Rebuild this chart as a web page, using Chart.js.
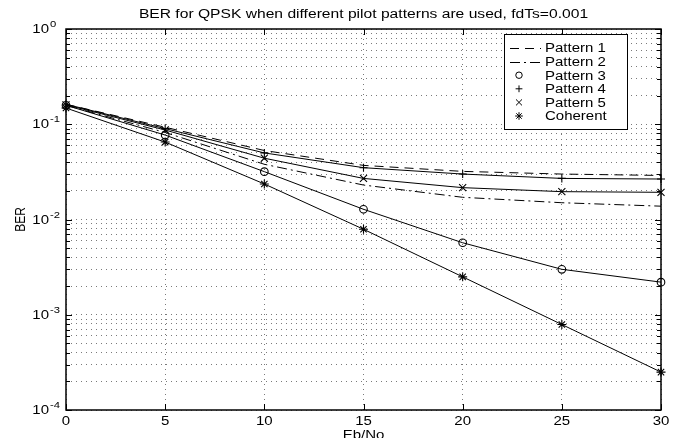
<!DOCTYPE html>
<html>
<head>
<meta charset="utf-8">
<script src="https://cdn.jsdelivr.net/npm/chart.js@4/dist/chart.umd.min.js"></script>
<style>
  html, body { margin: 0; padding: 0; background: #fff; }
  #wrap { width: 679px; height: 438px; }
</style>
</head>
<body>
<div id="wrap"><canvas id="berChart" width="679" height="438"></canvas></div>
<script>
// Eb/No in dB
const ebno = [0, 5, 10, 15, 20, 25, 30];

// BER
const pattern1 = [0.162, 0.093, 0.053, 0.037, 0.032, 0.030, 0.029];
const pattern2 = [0.158, 0.082, 0.038, 0.023, 0.0171, 0.015, 0.0138];
const pattern3 = [0.158, 0.077, 0.0318, 0.0128, 0.0057, 0.0030, 0.0022];
const pattern4 = [0.162, 0.090, 0.050, 0.035, 0.030, 0.027, 0.0266];
const pattern5 = [0.160, 0.087, 0.044, 0.027, 0.0216, 0.0196, 0.0193];
const coherent = [0.148, 0.065, 0.0236, 0.0079, 0.0025, 0.00079, 0.00025];

const xTicks = [0, 5, 10, 15, 20, 25, 30];
const yExponents = [-4, -3, -2, -1, 0];

const titleText = 'BER for QPSK when different pilot patterns are used, fdTs=0.001';
const xTitle = 'Eb/No';
const yTitle = 'BER';

const FONT = '"Liberation Sans", Arial, Helvetica, sans-serif';
const STRETCH = 1.25; // text in the original is a bit wide

function pts(ys) {
  return ebno.map((x, i) => ({ x: x, y: ys[i] }));
}

function series(label, ys, dash, marker, r) {
  return {
    label: label,
    data: pts(ys),
    borderColor: '#000',
    borderWidth: 1,
    borderDash: dash,
    backgroundColor: 'transparent',
    pointStyle: marker || 'circle',
    pointRadius: marker ? r : 0,
    pointBorderColor: '#000',
    pointBackgroundColor: 'transparent',
    pointBorderWidth: 1.1,
    tension: 0,
    clip: false
  };
}

const datasets = [
  series('Pattern 1', pattern1, [9, 6], null, 0),
  series('Pattern 2', pattern2, [10, 4, 2, 4], null, 0),
  series('Pattern 3', pattern3, [], 'circle', 3.8),
  series('Pattern 4', pattern4, [], 'cross', 4),
  series('Pattern 5', pattern5, [], 'crossRot', 5),
  series('Coherent', coherent, [], 'star', 4.5)
];

function stretchedText(ctx, txt, x, y, size, align) {
  ctx.save();
  ctx.font = size + 'px ' + FONT;
  ctx.textBaseline = 'alphabetic';
  const w = ctx.measureText(txt).width * STRETCH;
  let left = x;
  if (align === 'center') left = x - w / 2;
  if (align === 'right') left = x - w;
  ctx.translate(left, y);
  ctx.scale(STRETCH, 1);
  ctx.textAlign = 'left';
  ctx.fillText(txt, 0, 0);
  ctx.restore();
  return w;
}

const matlabLook = {
  id: 'matlabLook',
  afterDraw(chart) {
    const ctx = chart.ctx;
    const a = chart.chartArea;
    const xs = chart.scales.x;
    const ys = chart.scales.y;
    ctx.save();
    ctx.fillStyle = '#000';
    ctx.strokeStyle = '#000';

    // inward ticks
    ctx.lineWidth = 1;
    ctx.beginPath();
    xTicks.forEach(v => {
      const px = Math.round(xs.getPixelForValue(v)) + 0.5;
      ctx.moveTo(px, a.bottom); ctx.lineTo(px, a.bottom - 6);
      ctx.moveTo(px, a.top); ctx.lineTo(px, a.top + 6);
    });
    ys.ticks.forEach(t => {
      const py = Math.round(ys.getPixelForValue(t.value)) + 0.5;
      const len = t.major ? 6 : 4;
      ctx.moveTo(a.left, py); ctx.lineTo(a.left + len, py);
      ctx.moveTo(a.right, py); ctx.lineTo(a.right - len, py);
    });
    ctx.stroke();

    // frame
    ctx.lineWidth = 1.5;
    ctx.strokeRect(Math.round(a.left), Math.round(a.top), Math.round(a.right - a.left), Math.round(a.bottom - a.top));

    // x tick labels
    xTicks.forEach(v => {
      stretchedText(ctx, String(v), xs.getPixelForValue(v), a.bottom + 15, 12, 'center');
    });

    // y tick labels with superscript exponents
    yExponents.forEach(e => {
      const py = ys.getPixelForValue(Math.pow(10, e));
      stretchedText(ctx, '10', 49, py + 4, 12, 'right');
      stretchedText(ctx, e < 0 ? '-' + (-e) : String(e), 50, py - 2, 9, 'left');
    });

    // title and axis titles
    const cx = (a.left + a.right) / 2;
    stretchedText(ctx, titleText, cx, 18, 12.5, 'center');
    stretchedText(ctx, xTitle, cx, 439, 12, 'center');

    ctx.save();
    ctx.font = '12px ' + FONT;
    ctx.translate(20, (a.top + a.bottom) / 2);
    ctx.scale(STRETCH, 1);
    ctx.rotate(-Math.PI / 2);
    ctx.textAlign = 'center';
    ctx.textBaseline = 'alphabetic';
    ctx.fillText(yTitle, 0, 4.3);
    ctx.restore();

    // legend box
    const bx = 504, by = 34, bw = 123, bh = 95;
    ctx.fillStyle = '#fff';
    ctx.fillRect(bx, by, bw, bh);
    ctx.lineWidth = 1;
    ctx.strokeStyle = '#000';
    ctx.strokeRect(bx + 0.5, by + 0.5, bw, bh);
    ctx.fillStyle = '#000';
    chart.data.datasets.forEach((ds, i) => {
      const ry = 48 + i * 13.6;
      if (ds.pointRadius === 0) {
        ctx.save();
        ctx.setLineDash(ds.borderDash);
        ctx.lineWidth = 1;
        ctx.beginPath();
        ctx.moveTo(510, Math.round(ry) + 0.5);
        ctx.lineTo(541, Math.round(ry) + 0.5);
        ctx.stroke();
        ctx.restore();
      } else {
        ctx.save();
        ctx.strokeStyle = '#000';
        ctx.fillStyle = 'transparent';
        ctx.lineWidth = 1;
        Chart.helpers.drawPoint(ctx, { pointStyle: ds.pointStyle, radius: ds.pointRadius * 0.85, rotation: 0, borderWidth: 1 }, 519, ry);
        ctx.restore();
      }
      stretchedText(ctx, ds.label, 545, ry + 4.3, 12, 'left');
    });

    ctx.restore();
  }
};

const ctx = document.getElementById('berChart').getContext('2d');
const berChart = new Chart(ctx, {
  type: 'line',
  data: { datasets: datasets },
  options: {
    responsive: false,
    devicePixelRatio: 1,
    animation: false,
    layout: { padding: { top: 29, right: 18, left: 0, bottom: 0 } },
    plugins: {
      legend: { display: false },
      title: { display: false },
      tooltip: { enabled: false }
    },
    scales: {
      x: {
        type: 'linear',
        min: 0,
        max: 30,
        ticks: { display: false, stepSize: 5 },
        grid: { color: '#7a7a7a', lineWidth: 1, drawTicks: false },
        border: { display: false, dash: [1, 4] },
        afterFit: s => { s.height = 28; }
      },
      y: {
        type: 'logarithmic',
        min: 1e-4,
        max: 1,
        ticks: { display: false, autoSkip: false },
        grid: { color: '#7a7a7a', lineWidth: 1, drawTicks: false },
        border: { display: false, dash: [1, 4] },
        afterBuildTicks: s => {
          const t = [];
          yExponents.forEach(e => {
            const base = Math.pow(10, e);
            for (let m = 1; m <= (e === 0 ? 1 : 9); m++) {
              t.push({ value: m * base, major: m === 1 });
            }
          });
          s.ticks = t;
        },
        afterFit: s => { s.width = 66; }
      }
    }
  },
  plugins: [matlabLook]
});
</script>
</body>
</html>
